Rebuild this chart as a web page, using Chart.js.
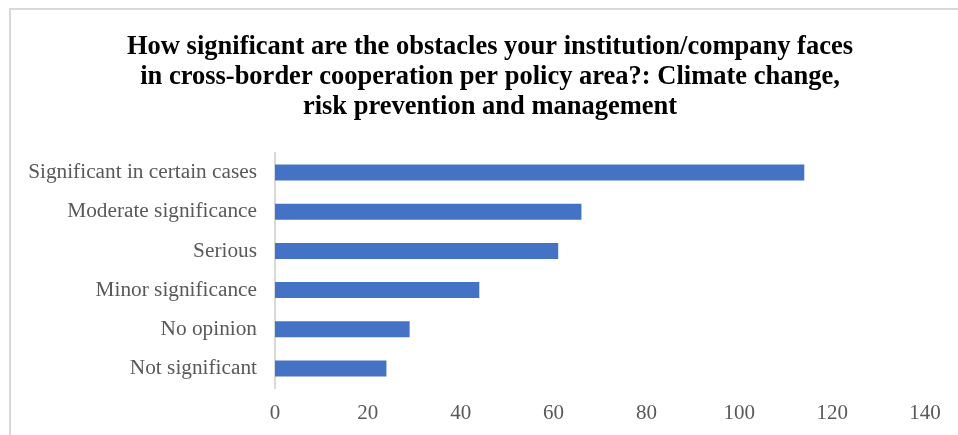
<!DOCTYPE html>
<html>
<head>
<meta charset="utf-8">
<script src="https://cdn.jsdelivr.net/npm/chart.js@4.4.0/dist/chart.umd.min.js"></script>
<style>
    html, body { margin: 0; padding: 0; background: #ffffff; overflow: hidden; }
    #wrap { position: relative; width: 958px; height: 435px; overflow: hidden; }
    #frame {
        position: absolute; left: 9px; top: 8px; right: -10px; bottom: -10px;
        border-left: 2px solid #d9d9d9; border-top: 2px solid #d9d9d9;
    }
    #chart_obstacles { position: absolute; left: 0; top: 0; }
</style>
</head>
<body>
<div id="wrap">
    <div id="frame"></div>
    <canvas id="chart_obstacles" width="958" height="435"></canvas>
</div>
<script>
const titleLines = [
    "How significant are the obstacles your institution/company faces",
    "in cross-border cooperation per policy area?: Climate change,",
    "risk prevention and management"
];
const categories = [
    "Significant in certain cases",
    "Moderate significance",
    "Serious",
    "Minor significance",
    "No opinion",
    "Not significant"
];
const answers = [114, 66, 61, 44, 29, 24];
const axisMin = 0;
const axisMax = 140;
const axisStep = 20;

const serif = "'Liberation Serif', 'Times New Roman', serif";

// the frame runs past the right edge, so the title sits on a wider box than the plot
const widenTitle = {
    id: 'widenTitle',
    afterLayout: function(chart){
        if(chart.titleBlock){
            chart.titleBlock.left = 0;
            chart.titleBlock.right = 980;
        }
    }
};

function generateChart(){
    const ctx = document.getElementById('chart_obstacles');
    new Chart(ctx, {
        type: 'bar',
        data: {
            labels: categories,
            datasets: [{
                label: 'Answers',
                data: answers,
                backgroundColor: '#4472c4',
                borderWidth: 0,
                barPercentage: 0.41,
                categoryPercentage: 1
            }]
        },
        options: {
            indexAxis: 'y',
            responsive: false,
            animation: false,
            layout: {
                padding: { left: 0, right: 33, top: 0, bottom: 0 }
            },
            plugins: {
                legend: { display: false },
                tooltip: { enabled: false },
                title: {
                    display: true,
                    text: titleLines,
                    color: '#000000',
                    font: { family: serif, size: 26.5, weight: 'bold', lineHeight: 1.132 },
                    padding: { top: 32, bottom: 31 }
                }
            },
            scales: {
                x: {
                    min: axisMin,
                    max: axisMax,
                    ticks: {
                        stepSize: axisStep,
                        color: '#595959',
                        font: { family: serif, size: 21 },
                        padding: 13
                    },
                    grid: { display: false, drawTicks: false },
                    border: { display: false },
                    afterFit: function(scale){ scale.height = 47; }
                },
                y: {
                    ticks: {
                        color: '#595959',
                        font: { family: serif, size: 21.3 },
                        padding: 18
                    },
                    grid: { display: false, drawTicks: false },
                    border: { display: true, color: '#d9d9d9', width: 2 },
                    afterFit: function(scale){ scale.width = 275; }
                }
            }
        },
        plugins: [widenTitle]
    });
}

generateChart();
</script>
</body>
</html>
